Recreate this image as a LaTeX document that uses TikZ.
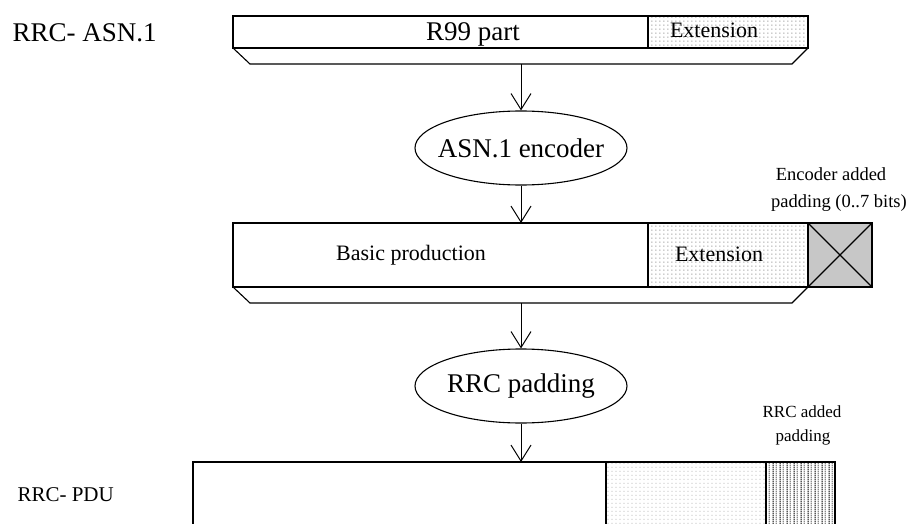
\documentclass[tikz,border=0pt]{standalone}
\usepackage{fontspec}
\setmainfont{Liberation Serif}
\usetikzlibrary{patterns.meta,shapes.geometric,arrows.meta}
\tikzdeclarepattern{
  name=finedots,
  type=colored,
  bottom left={(0pt,0pt)},
  top right={(4.4pt,4.3pt)},
  tile size={(4.4pt,4.3pt)},
  code={\fill[black!45] (1.7pt,1.6pt) rectangle (2.7pt,2.6pt);}
}
\tikzdeclarepattern{
  name=vhatch,
  type=colored,
  bottom left={(0pt,0pt)},
  top right={(6.6pt,2pt)},
  tile size={(6.6pt,2pt)},
  code={\fill[black] (0.6pt,0pt) rectangle (1.8pt,2pt);
        \fill[black!45] (3.9pt,0pt) rectangle (5.1pt,2pt);}
}
\begin{document}
\begin{tikzpicture}[x=1pt,y=-1pt,line width=1.1pt,
  arr/.style={-{Straight Barb[length=16pt,width=20pt,line width=1pt]},line width=1pt},
  oval/.style={ellipse,draw,minimum width=212pt,minimum height=74pt,inner sep=0pt,font=\fontsize{27}{30}\selectfont},
  big/.style={font=\fontsize{27}{30}\selectfont,inner sep=0pt,anchor=base},
  mid/.style={font=\fontsize{22}{26}\selectfont,inner sep=0pt,anchor=base},
  small/.style={font=\fontsize{18.5}{22}\selectfont,inner sep=0pt,anchor=base},
  ext/.style={pattern=finedots},
  pad/.style={fill=black!22},
  rrcpad/.style={pattern=vhatch}]
\useasboundingbox (0,0) rectangle (918,524);

% ---- top bar (RRC ASN.1)
\node[big,anchor=base west] (lblasn) at (12,42) {RRC- ASN.1};
\fill[ext] (648,16) rectangle (808,48);
\draw (233,16) rectangle (808,48);
\draw (648,16) -- (648,48);
\draw (233,48) -- (250,64) -- (792,64) -- (808,48);
\node[big] (r99) at (473,41) {R99 part};
\node[mid] (ext1) at (714,38) {Extension};
\coordinate (topout) at (521,64);

% ---- encoder
\node[oval] (enc) at (521,148) {\makebox[0pt]{ASN.1 encoder}};

% ---- middle bar
\fill[ext] (648,223) rectangle (808,287);
\fill[pad] (808,223) rectangle (872,287);
\draw (233,223) rectangle (872,287);
\draw (648,223) -- (648,287);
\draw (808,223) -- (808,287);
\draw (808,223) -- (872,287);
\draw (808,287) -- (872,223);
\draw (233,287) -- (250,303) -- (792,303) -- (808,287);
\node[mid] (basic) at (411,260) {Basic production};
\node[mid] (ext2) at (719,261) {Extension};
\node[small] (encadd1) at (831,180) {Encoder added};
\node[small] (encadd2) at (839,207) {padding (0..7 bits)};
\coordinate (midin) at (521,223);
\coordinate (midout) at (521,303);

% ---- RRC padding
\node[oval] (rrcpadding) at (521,386) {\makebox[0pt]{RRC padding}};

% ---- bottom bar (RRC PDU)
\node[mid,anchor=base west,font=\fontsize{21}{25}\selectfont] (lblpdu) at (17,501) {RRC- PDU};
\fill[ext] (606,462) rectangle (766,524);
\fill[rrcpad] (766,462) rectangle (835,524);
\draw (193,524) -- (193,462) -- (835,462) -- (835,524);
\draw (606,462) -- (606,524);
\draw (766,462) -- (766,524);
\node[small,font=\fontsize{17}{20}\selectfont] (rrcadd1) at (802,417) {RRC added};
\node[small,font=\fontsize{17}{20}\selectfont] (rrcadd2) at (803,441) {padding};
\coordinate (botin) at (521,462);

% ---- arrows
\draw[arr] (topout) -- (enc.north);
\draw[arr] (enc.south) -- (midin);
\draw[arr] (midout) -- (rrcpadding.north);
\draw[arr] (rrcpadding.south) -- (botin);
\end{tikzpicture}
\end{document}
